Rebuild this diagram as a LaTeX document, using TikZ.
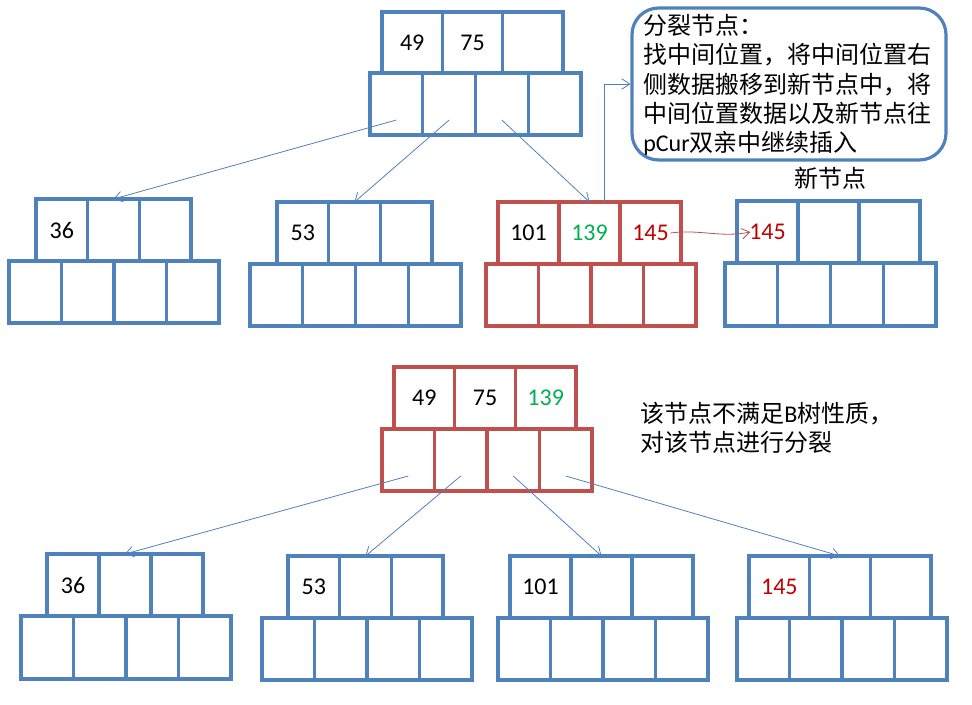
\documentclass[tikz,border=0pt]{standalone}
\usepackage{fontspec}
\usetikzlibrary{arrows.meta}
\setmainfont{Carlito}
\newfontfamily\cjk{Noto Sans CJK SC}
\definecolor{bblue}{RGB}{79,129,189}
\definecolor{bred}{RGB}{192,80,77}
\definecolor{tred}{RGB}{192,0,0}
\definecolor{tgreen}{RGB}{0,176,80}
\tikzset{
  bx/.style={draw=#1, line width=2.4pt, inner sep=0pt, outer sep=0pt, font=\fontsize{18}{20}\selectfont},
  arr/.style={draw=bblue, line width=0.6pt, -{Straight Barb[length=6pt,width=8pt]}},
  cjkt/.style={font=\cjk\fontsize{18}{22}\selectfont, inner sep=0pt}
}
% name, x0, x1, y0, y1, color, l1, l2, l3
\newcommand\krow[9]{%
  \foreach \i/\t in {1/{#7},2/{#8},3/{#9}} {
    \node[bx=#6, minimum width={(#3-#2)/3*0.75pt}, minimum height={(#5-#4)*0.75pt}]
      (#1k\i) at ({#2+(\i-0.5)*(#3-#2)/3},{(#4+#5)/2}) {\t};
  }}
\newcommand\crow[6]{%
  \foreach \i in {1,2,3,4} {
    \node[bx=#6, minimum width={(#3-#2)/4*0.75pt}, minimum height={(#5-#4)*0.75pt}]
      (#1c\i) at ({#2+(\i-0.5)*(#3-#2)/4},{(#4+#5)/2}) {};
  }}
\begin{document}
\begin{tikzpicture}[x=0.75pt,y=-0.75pt]
\useasboundingbox (0,0) rectangle (972,704);
% ---- top half
\krow{r}{382}{563}{12}{73}{bblue}{49}{75}{}
\crow{r}{370}{581}{73}{135}{bblue}
\krow{a}{36}{191}{199}{261}{bblue}{36}{}{}
\crow{a}{9}{219}{261}{323}{bblue}
\krow{b}{277}{432}{202}{264}{bblue}{53}{}{}
\crow{b}{250}{461}{264}{326}{bblue}
\krow{c}{498}{681}{202}{264}{bred}{101}{\textcolor{tgreen}{139}}{\textcolor{tred}{145}}
\crow{c}{486}{696}{264}{326}{bred}
\krow{n}{737}{920}{201}{263}{bblue}{\textcolor{tred}{145}}{}{}
\crow{n}{725}{936}{263}{326}{bblue}
\draw[arr] ([yshift=-12pt]rc1.center) -- (ak2.north);
\draw[arr] ([yshift=-12pt]rc2.center) -- (bk2.north);
\draw[arr] ([yshift=-12pt]rc3.center) -- (ck2.north);
\node[draw=bblue, line width=2.4pt, rounded corners=20pt, minimum width=314*0.75pt, minimum height=152*0.75pt] (call) at (789,84) {};
\node[cjkt, anchor=north west, align=left] (calltxt) at (643,14) {分裂节点：\\找中间位置，将中间位置右\\侧数据搬移到新节点中，将\\中间位置数据以及新节点往\\{\fontspec{Carlito}pCur}双亲中继续插入};
\draw[arr] ([xshift=11pt]ck2.north) |- (call.west);
\node[cjkt] (newlbl) at (830,178) {新节点};
\draw[draw=bred, line width=0.6pt, -{Straight Barb[length=6pt,width=8pt]}] ([xshift=-8pt]ck3.east) .. controls +(30,-4) and +(-30,6) .. ([xshift=10pt]nk1.west);
% ---- bottom half
\krow{s}{394}{576}{367}{429}{bred}{49}{75}{\textcolor{tgreen}{139}}
\crow{s}{382}{592}{429}{491}{bred}
\node[cjkt, anchor=north west, align=left] (note) at (640,402) {该节点不满足{\fontspec{Carlito}B}树性质，\\对该节点进行分裂};
\krow{d}{47}{203}{554}{616}{bblue}{36}{}{}
\crow{d}{21}{231}{616}{679}{bblue}
\krow{e}{288}{443}{556}{618}{bblue}{53}{}{}
\crow{e}{262}{472}{618}{680}{bblue}
\krow{f}{510}{693}{556}{618}{bblue}{101}{}{}
\crow{f}{498}{708}{618}{680}{bblue}
\krow{g}{749}{931}{556}{618}{bblue}{\textcolor{tred}{145}}{}{}
\crow{g}{737}{947}{618}{680}{bblue}
\draw[arr] ([yshift=-12pt]sc1.center) -- (dk2.north);
\draw[arr] ([yshift=-12pt]sc2.center) -- (ek2.north);
\draw[arr] ([yshift=-12pt]sc3.center) -- (fk2.north);
\draw[arr] ([yshift=-12pt]sc4.center) -- (gk2.north);
\end{tikzpicture}
\end{document}
